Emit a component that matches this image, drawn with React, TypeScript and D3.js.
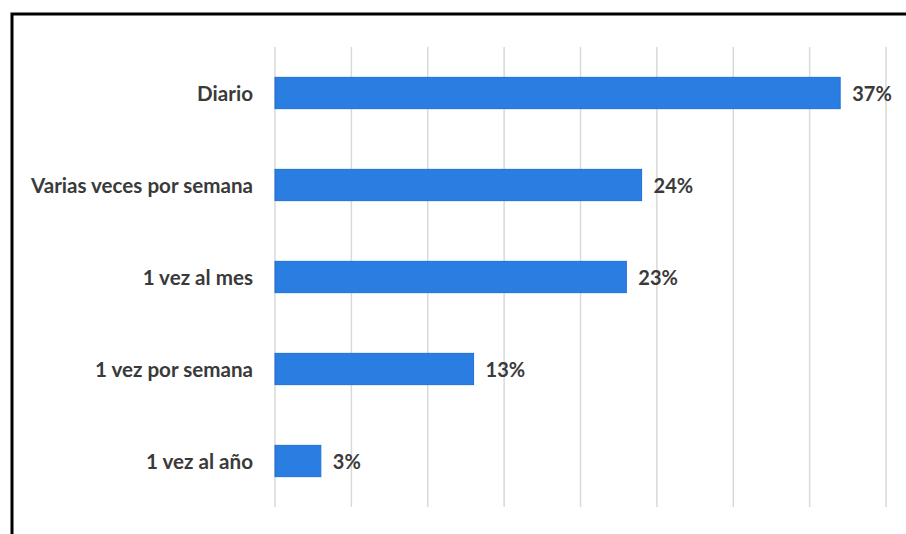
import React from "react";
import * as d3 from "d3";

const categories = ["Diario", "Varias veces por semana", "1 vez al mes", "1 vez por semana", "1 vez al año"];
const values = [37, 24, 23, 13, 3];
const tickValues = [0, 5, 10, 15, 20, 25, 30, 35, 40];

const W = 906;
const H = 534;

export default function App() {
  const x = d3.scaleLinear().domain([0, 40]).range([275, 886]);
  const y = d3.scaleBand<string>().domain(categories).range([47, 507]).paddingInner(0.66).paddingOuter(0.33);
  const font = "Lato, 'Open Sans', sans-serif";
  return (
    <svg width={W} height={H} style={{ position: "fixed", left: 0, top: 0, background: "#fff" }}>
      <rect x={0} y={0} width={W} height={H} fill="#fff" />
      <rect x={12} y={14} width={1200} height={1200} fill="none" stroke="#000" strokeWidth={3} />
      {tickValues.map((t) => (
        <line key={t} x1={x(t)} x2={x(t)} y1={47} y2={507} stroke="#d9d9d9" strokeWidth={1.5} />
      ))}
      {categories.map((c, i) => (
        <g key={c}>
          <rect
            x={x(0)}
            y={y(c)!}
            width={x(values[i]) - x(0)}
            height={y.bandwidth()}
            fill="#2A7DE1"
            stroke="#1E6FD6"
            strokeWidth={1}
          />
          <text
            x={x(0) - 22}
            y={y(c)! + y.bandwidth() / 2}
            textAnchor="end"
            dominantBaseline="central"
            fontFamily={font}
            fontWeight={700}
            fontSize={20.6}
            fill="#3a3a3a"
          >
            {c}
          </text>
          <text
            x={x(values[i]) + 12}
            y={y(c)! + y.bandwidth() / 2}
            dominantBaseline="central"
            fontFamily={font}
            fontWeight={700}
            fontSize={20}
            fill="#3a3a3a"
          >
            {values[i]}%
          </text>
        </g>
      ))}
    </svg>
  );
}
